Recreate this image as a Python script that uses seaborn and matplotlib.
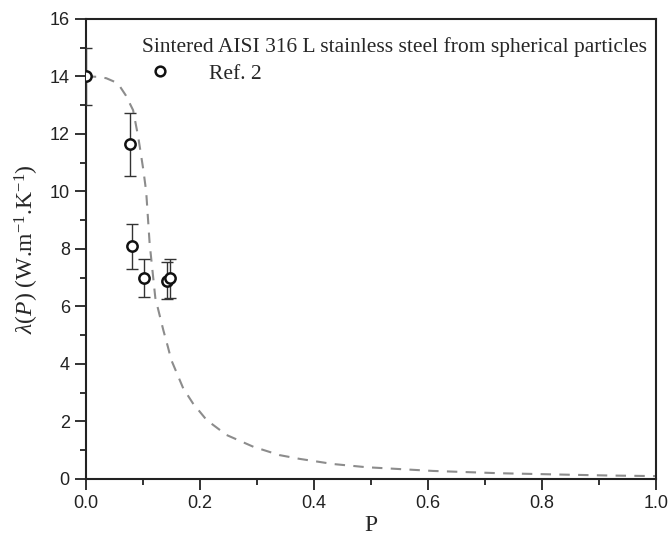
import numpy as np
import pandas as pd
import seaborn as sns
import matplotlib.pyplot as plt
from matplotlib.ticker import MultipleLocator
from matplotlib.lines import Line2D

# Data: measured points (Ref. 2) with error bars
P_meas = [0.0, 0.078, 0.081, 0.102, 0.142, 0.148]
lam_meas = [14.0, 11.64, 8.10, 6.98, 6.90, 6.98]
lam_err = [1.0, 1.1, 0.78, 0.66, 0.64, 0.68]

# Dashed model curve
P_curve = [0.0, 0.02, 0.036, 0.05, 0.06, 0.07, 0.083, 0.092, 0.101, 0.106,
           0.112, 0.122, 0.136, 0.144, 0.150, 0.171, 0.188, 0.212, 0.247,
           0.294, 0.34, 0.375, 0.434, 0.492, 0.609, 0.726, 0.843, 0.92, 1.0]
lam_curve = [14.0, 13.99, 13.94, 13.82, 13.65, 13.35, 12.83, 11.9, 10.75, 9.99,
             8.2, 6.3, 5.18, 4.6, 4.14, 3.15, 2.63, 2.05, 1.53,
             1.12, 0.83, 0.70, 0.52, 0.41, 0.28, 0.20, 0.15, 0.12, 0.10]

meas = pd.DataFrame({'P': P_meas, 'lam': lam_meas, 'err': lam_err})
curve = pd.DataFrame({'P': P_curve, 'lam': lam_curve})

sns.set_style('ticks')
plt.rcParams['font.family'] = ['Liberation Sans', 'DejaVu Sans']
plt.rcParams['mathtext.fontset'] = 'custom'
plt.rcParams['mathtext.rm'] = 'Liberation Serif'
plt.rcParams['mathtext.it'] = 'Liberation Serif:italic'

fig = plt.figure(figsize=(6.7, 5.35), dpi=100)
ax = fig.add_axes([0.128, 0.1047, 0.851, 0.8598])

sns.lineplot(data=curve, x='P', y='lam', ax=ax, color='#8c8c8c',
             linestyle=(0, (5, 4)), linewidth=1.5, sort=False, zorder=2)
ax.errorbar(meas['P'], meas['lam'], yerr=meas['err'], fmt='none',
            ecolor='#333333', elinewidth=1.0, capsize=4, capthick=1.0, zorder=3)
sns.scatterplot(data=meas, x='P', y='lam', ax=ax, marker='o', s=55,
                facecolor='white', edgecolor='#111111', linewidth=1.8, zorder=4)

ax.set_xlim(0, 1.0)
ax.set_ylim(0, 16)
ax.xaxis.set_major_locator(MultipleLocator(0.2))
ax.xaxis.set_minor_locator(MultipleLocator(0.1))
ax.yaxis.set_major_locator(MultipleLocator(2))
ax.yaxis.set_minor_locator(MultipleLocator(1))
ax.tick_params(which='both', direction='out', width=1.3, colors='#222222',
               labelsize=13, top=False, right=False)
ax.tick_params(which='major', length=8)
ax.tick_params(which='minor', length=4.5)
ax.xaxis.set_major_formatter(plt.FormatStrFormatter('%.1f'))
for s in ax.spines.values():
    s.set_linewidth(1.5)
    s.set_color('#222222')

ax.set_xlabel('P', fontfamily='Liberation Serif', fontsize=17, labelpad=2)
ax.set_ylabel(r'$\lambda(P)$ (W.m$^{-1}$.K$^{-1}$)', fontfamily='Liberation Serif',
              fontsize=17, labelpad=6)

handle = Line2D([], [], marker='o', linestyle='none', markersize=7,
                markerfacecolor='white', markeredgecolor='#111111',
                markeredgewidth=1.8)
leg = ax.legend([handle], ['Ref. 2'], title='Sintered AISI 316 L stainless steel from spherical particles',
                loc='upper right', bbox_to_anchor=(1.0, 0.979), frameon=False,
                alignment='left', handlelength=1.6, handletextpad=1.5,
                borderaxespad=0.1, borderpad=0.3, labelspacing=0.3,
                prop={'family': 'Liberation Serif', 'size': 15.5},
                title_fontproperties={'family': 'Liberation Serif', 'size': 15.5})

fig.savefig('out.png', dpi=100)
